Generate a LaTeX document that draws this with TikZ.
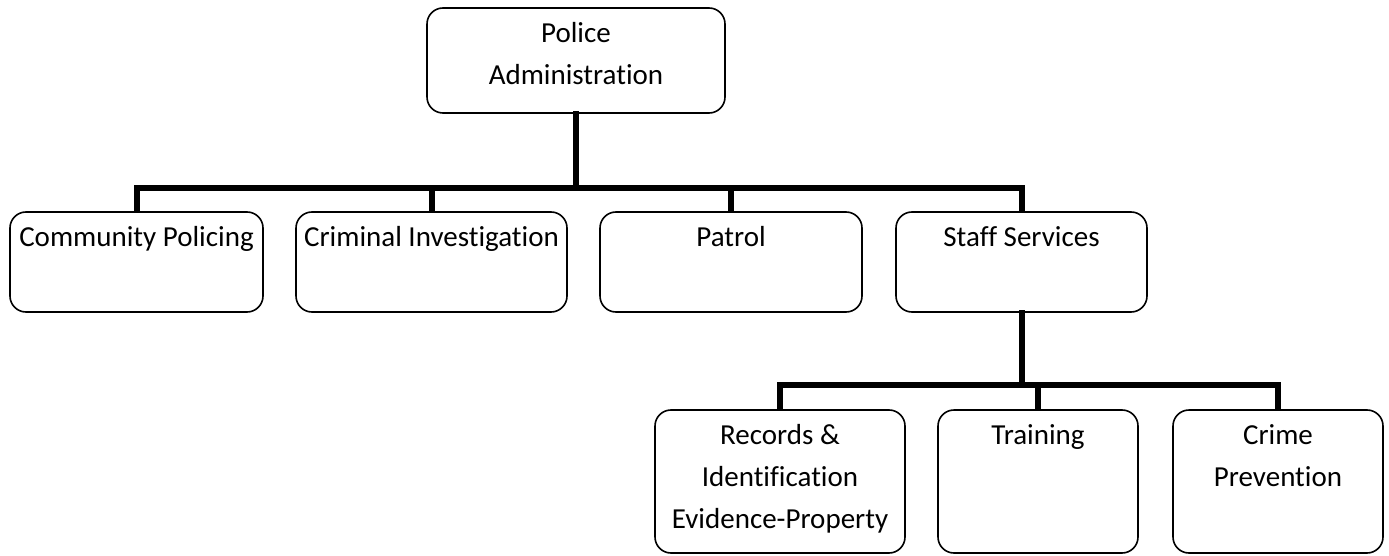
\documentclass[tikz,border=0pt]{standalone}
\usepackage{fontspec}
\setmainfont[Ligatures={NoCommon}]{Carlito}
\begin{document}
\begin{tikzpicture}[x=1pt,y=-1pt,
  unit/.style={draw=black, line width=1.6pt, rounded corners=16pt,
    rectangle, inner sep=0pt},
  caption/.style={anchor=north, align=center, inner sep=0pt,
    font=\fontsize{29}{42}\selectfont},
  link/.style={line width=6pt, line join=miter, line cap=rect}]
\useasboundingbox (0,0) rectangle (1389,556);

% top level
\node[unit, minimum width=298pt, minimum height=105pt] (admin) at (576,60.5) {};
\node[caption] (admintxt) at ([yshift=-15pt]admin.north) {Police\\Administration};

% divisions
\node[unit, minimum width=253pt, minimum height=100pt] (comm) at (136.5,262) {};
\node[unit, minimum width=271pt, minimum height=100pt] (crim) at (431.5,262) {};
\node[unit, minimum width=262pt, minimum height=100pt] (patrol) at (731,262) {};
\node[unit, minimum width=251pt, minimum height=100pt] (staff) at (1021.5,262) {};
\node[caption] (commtxt) at ([yshift=-15pt]comm.north) {Community Policing};
\node[caption] (crimtxt) at ([yshift=-15pt]crim.north) {Criminal Investigation};
\node[caption] (patroltxt) at ([yshift=-15pt]patrol.north) {Patrol};
\node[caption] (stafftxt) at ([yshift=-15pt]staff.north) {Staff Services};

% staff services units
\node[unit, minimum width=250pt, minimum height=143pt] (records) at (780,481.5) {};
\node[unit, minimum width=200pt, minimum height=143pt] (training) at (1038,481.5) {};
\node[unit, minimum width=210pt, minimum height=143pt] (crime) at (1278,481.5) {};
\node[caption] (recordstxt) at ([yshift=-15pt]records.north) {Records \&\\Identification\\Evidence-Property};
\node[caption] (trainingtxt) at ([yshift=-15pt]training.north) {Training};
\node[caption] (crimetxt) at ([yshift=-15pt]crime.north) {Crime\\Prevention};

% connectors
\coordinate (bar1) at (576,188);
\coordinate (bar2) at (1021.5,385);
\draw[link] (admin.south) -- (bar1);
\foreach \c in {comm,crim,patrol,staff}
  \draw[link, line cap=butt] (bar1) -| (\c.north);
\draw[link] (staff.south) -- (bar2);
\foreach \c in {records,training,crime}
  \draw[link, line cap=butt] (bar2) -| (\c.north);
\end{tikzpicture}
\end{document}
